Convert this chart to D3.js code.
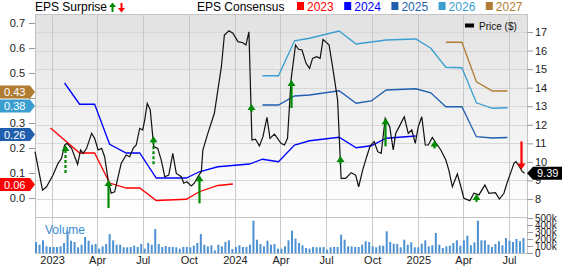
<!DOCTYPE html>
<html>
<head>
<meta charset="utf-8">
<script src="https://cdn.jsdelivr.net/npm/d3@7"></script>
<style>
  body { margin: 0; background: #fff; }
  svg { font-family: "Liberation Sans", Arial, sans-serif; }
</style>
</head>
<body>
<div id="chart"></div>
<script>
// ---- data ----
const priceDates = ["2022-11-28","2022-12-13","2022-12-21","2023-01-03","2023-01-13","2023-01-20","2023-01-26","2023-01-31","2023-02-09","2023-02-21","2023-02-27","2023-03-04","2023-03-11","2023-03-21","2023-03-27","2023-04-03","2023-04-10","2023-04-16","2023-04-23","2023-04-29","2023-05-06","2023-05-13","2023-05-19","2023-05-29","2023-06-05","2023-06-12","2023-06-18","2023-06-25","2023-07-01","2023-07-05","2023-07-10","2023-07-16","2023-07-23","2023-07-31","2023-08-07","2023-08-14","2023-08-22","2023-08-30","2023-09-06","2023-09-16","2023-09-21","2023-09-27","2023-10-06","2023-10-12","2023-10-19","2023-10-26","2023-10-29","2023-11-08","2023-11-21","2023-12-05","2023-12-11","2023-12-20","2023-12-28","2024-01-07","2024-01-17","2024-01-23","2024-01-29","2024-02-04","2024-02-11","2024-02-19","2024-02-26","2024-03-05","2024-03-11","2024-03-20","2024-04-02","2024-04-09","2024-04-15","2024-04-22","2024-05-01","2024-05-07","2024-05-14","2024-05-22","2024-05-29","2024-06-04","2024-06-12","2024-06-19","2024-06-25","2024-07-07","2024-07-15","2024-07-24","2024-07-31","2024-08-09","2024-08-20","2024-08-29","2024-09-04","2024-09-12","2024-09-20","2024-09-27","2024-10-05","2024-10-12","2024-10-19","2024-10-27","2024-11-05","2024-11-12","2024-11-17","2024-11-24","2024-12-04","2024-12-12","2024-12-19","2024-12-26","2025-01-01","2025-01-08","2025-01-15","2025-01-21","2025-01-29","2025-02-05","2025-02-15","2025-02-25","2025-03-03","2025-03-10","2025-03-20","2025-03-27","2025-04-02","2025-04-14","2025-04-22","2025-05-02","2025-05-14","2025-05-22","2025-06-04","2025-06-12","2025-06-21","2025-06-27","2025-07-04","2025-07-11","2025-07-15","2025-07-22","2025-07-27","2025-08-01"];
const priceValues = [10.55,8.48,8.66,9.29,9.92,10.19,10.91,11.0,10.73,9.87,10.64,10.46,10.73,11.54,11.27,10.64,10.73,10.28,9.02,8.31,8.39,9.2,9.92,10.37,10.28,10.73,10.91,11.81,11.72,12.26,13.16,12.8,10.82,10.73,10.1,9.2,9.29,10.46,9.38,9.2,8.85,8.93,8.7,8.85,9.2,9.47,10.64,11.54,12.62,15.13,16.84,17.07,16.93,16.48,16.42,16.3,17.01,11.18,11.22,10.86,11.36,12.4,11.27,11.5,11.0,10.91,11.27,14.41,16.3,16.07,16.03,15.31,15.04,15.58,15.67,15.58,16.6,16.3,14.95,13.33,9.11,9.11,9.42,9.29,8.66,9.56,10.28,10.86,11.09,10.55,10.46,12.35,11.9,10.64,11.54,11.9,12.43,11.54,11.72,11.0,11.9,12.43,10.91,10.91,11.32,11.03,10.64,10.1,9.56,8.66,9.35,8.66,8.04,7.91,8.31,8.22,8.75,8.31,8.34,8.0,8.31,8.85,9.38,9.92,10.01,9.74,9.5,9.39];

const cons2023Dates = ["2022-12-29","2023-02-25","2023-03-27","2023-04-26","2023-05-29","2023-06-25","2023-07-28","2023-09-26","2023-10-22","2023-11-28","2023-12-28"];
const cons2023 = [0.28,0.18,0.18,0.06,0.04,0.04,-0.01,-0.005,0.025,0.05,0.056];
const cons2024Dates = ["2023-01-26","2023-02-25","2023-03-27","2023-04-26","2023-05-29","2023-06-25","2023-07-28","2023-09-26","2023-10-22","2023-11-28","2024-01-30","2024-02-25","2024-03-28","2024-04-29","2024-05-29","2024-07-27","2024-08-30","2024-09-29","2024-10-29","2024-12-27"];
const cons2024 = [0.46,0.375,0.375,0.215,0.18,0.18,0.08,0.08,0.105,0.125,0.136,0.155,0.145,0.212,0.229,0.243,0.201,0.209,0.239,0.248];
const consLateDates = ["2024-02-25","2024-03-28","2024-04-29","2024-05-29","2024-07-27","2024-08-30","2024-09-29","2024-10-29","2024-12-27","2025-01-26","2025-02-25","2025-03-29","2025-04-27","2025-05-29","2025-06-28"];
const cons2025 = [0.372,0.372,0.408,0.412,0.429,0.379,0.388,0.432,0.437,0.421,0.365,0.365,0.245,0.24,0.242];
const cons2026 = [0.489,0.489,0.629,0.639,0.668,0.616,0.624,0.632,0.636,0.599,0.523,0.521,0.381,0.359,0.361];
const cons2027Dates = ["2025-02-25","2025-03-29","2025-04-27","2025-05-29","2025-06-28"];
const cons2027 = [0.623,0.623,0.465,0.428,0.428];

const consYears = ["2023","2024","2025","2026","2027"];
const consColors = ["#ff0000","#0000ff","#1f5fae","#3a9fd0","#b07c33"];
const latestLabels = [["2027",0.43],["2026",0.38],["2025",0.26],["2023",0.06]];

const surpriseDates = ["2023-01-26","2023-04-23","2023-07-21","2023-10-21","2024-02-02","2024-04-22","2024-07-29","2024-10-27","2025-02-02","2025-04-26","2025-07-25"];
const surprisePct = [40,150,35,200,4,45,6,70,5,7,-45];
const surpriseDashed = [true,false,true,false,false,false,true,false,true,true,false];

const volStart = "2022-11-30";
const volumeK = [157,119,181,95,86,86,86,95,143,310,176,157,81,119,229,176,119,129,62,95,129,271,181,119,119,81,81,86,105,86,129,62,143,119,343,129,86,100,86,86,81,62,86,86,
  81,105,143,271,119,95,110,38,119,95,157,181,57,86,110,86,86,119,462,190,129,95,176,119,129,62,62,95,181,319,205,143,110,71,62,86,81,81,86,48,81,86,86,262,190,95,95,86,86,119,167,157,95,81,
  105,105,310,157,133,129,81,190,119,152,81,81,133,181,95,110,286,119,71,95,105,143,181,105,181,248,110,152,462,181,181,119,86,129,167,110,214,176,157,200,167,214];

const epsTicks = [0,0.1,0.2,0.3,0.4,0.5,0.6,0.7];
const priceTicks = [8,9,10,11,12,13,14,15,16,17];
const volTicks = [0,100000,200000,300000,400000,500000];
const lastPrice = 9.39;

// ---- layout ----
const width = 562, height = 266;
const plotL = 35, plotR = 527, plotT = 14, plotB = 217;
const volTop = 218, volBottom = 253;
const parse = d3.timeParse("%Y-%m-%d");

const svg = d3.select("#chart").append("svg")
  .attr("width", width)
  .attr("height", height);

const x = d3.scaleTime().domain([parse("2022-11-28"), parse("2025-08-06")]).range([plotL, plotR]);
const yPrice = d3.scaleLinear().domain([7.03, 17.97]).range([plotB, plotT]);
const yEps = d3.scaleLinear().domain([-0.076, 0.736]).range([plotB, plotT]);
const yVol = d3.scaleLinear().domain([0, 500000]).range([volBottom, volTop]);

const grad = svg.append("defs").append("linearGradient")
  .attr("id", "bg").attr("x1", 0).attr("y1", 0).attr("x2", 0).attr("y2", 1);
grad.append("stop").attr("offset", "0%").attr("stop-color", "#e2e2e2");
grad.append("stop").attr("offset", "100%").attr("stop-color", "#ffffff");

svg.append("rect")
  .attr("x", plotL).attr("y", plotT)
  .attr("width", plotR - plotL).attr("height", plotB - plotT)
  .attr("fill", "url(#bg)");

// grid
svg.append("g").selectAll("line")
  .data(priceTicks)
  .join("line")
  .attr("x1", plotL).attr("x2", plotR)
  .attr("y1", d => Math.round(yPrice(d)) + 0.5).attr("y2", d => Math.round(yPrice(d)) + 0.5)
  .attr("stroke", "#d8d8d8");

const quarters = x.ticks(d3.timeMonth.every(3));
svg.append("g").selectAll("line")
  .data(quarters)
  .join("line")
  .attr("x1", d => Math.round(x(d)) + 0.5).attr("x2", d => Math.round(x(d)) + 0.5)
  .attr("y1", plotT).attr("y2", volBottom)
  .attr("stroke", "#c8c8c8");

// frame
svg.append("rect")
  .attr("x", plotL + 0.5).attr("y", plotT + 0.5)
  .attr("width", plotR - plotL).attr("height", volBottom - plotT)
  .attr("fill", "none").attr("stroke", "#c4c4c4");
svg.append("line")
  .attr("x1", plotL).attr("x2", plotR)
  .attr("y1", plotB + 0.5).attr("y2", plotB + 0.5)
  .attr("stroke", "#c4c4c4");

// volume
const volDates = volumeK.map((v, i) => d3.timeDay.offset(parse(volStart), i * 7));
svg.append("g").selectAll("rect")
  .data(volumeK)
  .join("rect")
  .attr("x", (d, i) => x(volDates[i]) - 1)
  .attr("y", d => yVol(d * 1000))
  .attr("width", 2)
  .attr("height", d => volBottom - yVol(d * 1000))
  .attr("fill", "#4e92d4");

svg.append("text")
  .attr("x", 45).attr("y", 234)
  .attr("font-size", 12)
  .attr("fill", "#3a8bd2")
  .text("Volume");

// consensus lines
const epsLine = d3.line().x(d => x(d[0])).y(d => yEps(d[1]));
const consSeries = [
  [cons2023Dates, cons2023],
  [cons2024Dates, cons2024],
  [consLateDates, cons2025],
  [consLateDates, cons2026],
  [cons2027Dates, cons2027]
];
consSeries.forEach(([dates, vals], i) => {
  svg.append("path")
    .datum(vals.map((v, j) => [parse(dates[j]), v]))
    .attr("d", epsLine)
    .attr("fill", "none")
    .attr("stroke", consColors[i])
    .attr("stroke-width", 1.3);
});

// price line
const priceData = priceValues.map((v, i) => [parse(priceDates[i]), v]);
svg.append("path")
  .datum(priceData)
  .attr("d", d3.line().x(d => x(d[0])).y(d => yPrice(d[1])))
  .attr("fill", "none")
  .attr("stroke", "#111")
  .attr("stroke-width", 1.2);

// surprise arrows, tip sitting on the price line
const bis = d3.bisector(d => d[0]).left;
function priceAt(date) {
  const i = Math.max(1, Math.min(priceData.length - 1, bis(priceData, date)));
  const a = priceData[i - 1], b = priceData[i];
  const t = (date - a[0]) / (b[0] - a[0]);
  return a[1] + (b[1] - a[1]) * Math.max(0, Math.min(1, t));
}
const arrowG = svg.append("g");
surpriseDates.forEach((s, i) => {
  const dt = parse(s);
  const ax = Math.round(x(dt)) + 0.5;
  const tip = yPrice(priceAt(dt));
  const up = surprisePct[i] > 0;
  const len = Math.abs(surprisePct[i]) >= 10 ? 28 : 8;
  const col = up ? "#008a00" : "#ff0000";
  const dir = up ? 1 : -1;
  arrowG.append("line")
    .attr("x1", ax).attr("x2", ax)
    .attr("y1", tip + dir * 5).attr("y2", tip + dir * len)
    .attr("stroke", col).attr("stroke-width", 2.2)
    .attr("stroke-dasharray", surpriseDashed[i] ? "3,2" : null);
  arrowG.append("path")
    .attr("d", `M${ax},${tip} L${ax - 4},${tip + dir * 6} L${ax + 4},${tip + dir * 6} Z`)
    .attr("fill", col);
});

// axes
const axisStyle = g => {
  g.select(".domain").remove();
  g.selectAll(".tick line").attr("stroke", "#999");
  g.selectAll("text").attr("fill", "#222");
};

// consensus tag positions, nudged apart so they don't overlap
let prevY = -Infinity;
const tagYs = latestLabels.map(([yr, v]) => {
  let cy = yEps(v) + 1.5;
  if (cy - prevY < 14) cy = prevY + 14;
  prevY = cy;
  return cy;
});

const leftAxis = svg.append("g")
  .attr("transform", `translate(${plotL},0)`)
  .call(d3.axisLeft(yEps).tickValues(epsTicks).tickFormat(d3.format(".1f")).tickSize(6).tickPadding(4))
  .attr("font-size", 11).attr("font-family", null)
  .call(axisStyle);
// tick labels that sit fully under a tag are hidden, as in the original
leftAxis.selectAll(".tick text")
  .filter(d => tagYs.some(ty => Math.abs(yEps(d) - ty) < 7.5 && tagYs.some(t2 => t2 !== ty && Math.abs(yEps(d) - t2) < 10)))
  .remove();

svg.append("g")
  .attr("transform", `translate(${plotR},0)`)
  .call(d3.axisRight(yPrice).tickValues(priceTicks).tickSize(6).tickPadding(2))
  .attr("font-size", 11).attr("font-family", null)
  .call(axisStyle);

svg.append("g")
  .attr("transform", `translate(${plotR},0)`)
  .call(d3.axisRight(yVol).tickValues(volTicks).tickFormat(d => d === 0 ? "0" : d / 1000 + "k").tickSize(6).tickPadding(2))
  .attr("font-size", 10).attr("font-family", null)
  .call(axisStyle);

svg.append("g")
  .attr("transform", `translate(0,${volBottom})`)
  .call(d3.axisBottom(x).ticks(d3.timeMonth.every(3))
    .tickFormat(d => d.getMonth() === 0 ? d3.timeFormat("%Y")(d) : d3.timeFormat("%b")(d))
    .tickSize(0).tickPadding(3))
  .attr("font-size", 11).attr("font-family", null)
  .call(axisStyle);

// latest consensus tags on the left
latestLabels.forEach(([yr, v], i) => {
  const cy = tagYs[i];
  const col = consColors[consYears.indexOf(yr)];
  svg.append("path")
    .attr("d", `M0,${cy - 6.5} L30,${cy - 6.5} L35,${cy} L30,${cy + 6.5} L0,${cy + 6.5} Z`)
    .attr("fill", col);
  svg.append("text")
    .attr("x", 4).attr("y", cy + 4)
    .attr("font-size", 11).attr("fill", "#fff")
    .text(v.toFixed(2));
});

// last price tag
const py = yPrice(lastPrice);
svg.append("path")
  .attr("d", `M${plotR},${py} L${plotR + 6},${py - 6.5} L${width},${py - 6.5} L${width},${py + 6.5} L${plotR + 6},${py + 6.5} Z`)
  .attr("fill", "#000");
svg.append("text")
  .attr("x", plotR + 10).attr("y", py + 4)
  .attr("font-size", 11).attr("fill", "#fff")
  .text(lastPrice.toFixed(2));

// price legend
svg.append("rect").attr("x", 465).attr("y", 23.5).attr("width", 9).attr("height", 4).attr("fill", "#000");
svg.append("text").attr("x", 479).attr("y", 29.5).attr("font-size", 10).attr("fill", "#111").text("Price ($)");

// top legend
svg.append("text").attr("x", 35).attr("y", 11).attr("font-size", 12).attr("fill", "#000").text("EPS Surprise");
svg.append("line").attr("x1", 112.5).attr("x2", 112.5).attr("y1", 6).attr("y2", 12).attr("stroke", "#008a00").attr("stroke-width", 2);
svg.append("path").attr("d", "M112.5,2.5 L109,7 L116,7 Z").attr("fill", "#008a00");
svg.append("line").attr("x1", 121.5).attr("x2", 121.5).attr("y1", 3).attr("y2", 9).attr("stroke", "#ff0000").attr("stroke-width", 2);
svg.append("path").attr("d", "M121.5,12.5 L118,8 L125,8 Z").attr("fill", "#ff0000");

svg.append("text").attr("x", 197).attr("y", 11).attr("font-size", 12).attr("fill", "#000").text("EPS Consensus");
let lx = 297;
consYears.forEach((yr, i) => {
  svg.append("rect").attr("x", lx).attr("y", 2).attr("width", 7).attr("height", 8).attr("fill", consColors[i]);
  const t = svg.append("text").attr("x", lx + 10).attr("y", 11)
    .attr("font-size", 12).attr("fill", consColors[i]).text(yr);
  lx += 10 + t.node().getComputedTextLength() + 10.5;
});
</script>
</body>
</html>
